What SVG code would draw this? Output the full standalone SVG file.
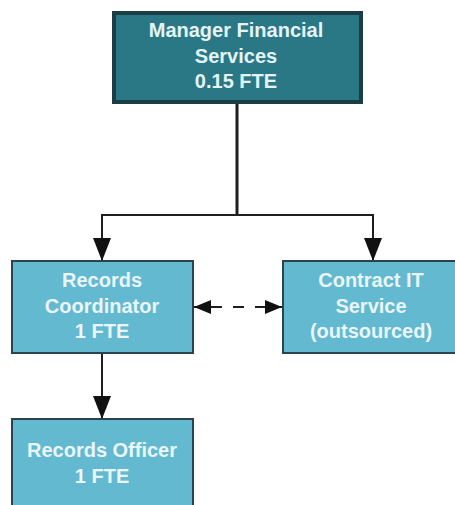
<svg xmlns="http://www.w3.org/2000/svg" width="455" height="505" viewBox="0 0 455 505">
  <style>
    .top { fill: #2a7886; stroke: #1b3d46; stroke-width: 4; }
    .box { fill: #62b9d0; stroke: #2a434c; stroke-width: 2; }
    .t { font-family: "Liberation Sans", Arial, sans-serif; font-weight: bold; font-size: 20px; text-anchor: middle; }
    .tt { fill: #e4f4f6; }
    .bt { fill: #eaf6fa; }
    .ln { fill: none; stroke: #1e1e1e; stroke-width: 2; }
    .dash { fill: none; stroke: #1e1e1e; stroke-width: 2; stroke-dasharray: 28 11 11 11 27; }
  </style>
  <defs>
    <marker id="arr" markerUnits="userSpaceOnUse" markerWidth="24" markerHeight="18" refX="23" refY="9" orient="auto">
      <path d="M0,0 L23,9 L0,18 Z" fill="#111"/>
    </marker>
    <marker id="sarr" markerUnits="userSpaceOnUse" markerWidth="18" markerHeight="14" refX="17" refY="7" orient="auto-start-reverse">
      <path d="M0,0 L17,7 L0,14 Z" fill="#111"/>
    </marker>
  </defs>
  <rect width="455" height="505" fill="#ffffff"/>

  <g id="connectors">
    <path class="ln" d="M237,102 V215" style="stroke-width:3"/>
    <path class="ln" d="M237,215 H102 V261" marker-end="url(#arr)"/>
    <path class="ln" d="M237,215 H373 V261" marker-end="url(#arr)"/>
    <path class="dash" d="M194,307 H282" marker-start="url(#sarr)" marker-end="url(#sarr)"/>
    <path class="ln" d="M102,353 V419" marker-end="url(#arr)"/>
  </g>

  <g id="manager">
    <rect class="top" x="114" y="13" width="247" height="89"/>
    <text class="t tt" x="236" y="37">Manager Financial</text>
    <text class="t tt" x="236" y="63">Services</text>
    <text class="t tt" x="236" y="88">0.15 FTE</text>
  </g>

  <g id="coordinator">
    <rect class="box" x="12" y="261" width="181" height="92"/>
    <text class="t bt" x="102" y="287">Records</text>
    <text class="t bt" x="102" y="313">Coordinator</text>
    <text class="t bt" x="102" y="338">1 FTE</text>
  </g>

  <g id="contract">
    <rect class="box" x="283" y="261" width="181" height="92"/>
    <text class="t bt" x="371" y="287">Contract IT</text>
    <text class="t bt" x="371" y="313">Service</text>
    <text class="t bt" x="371" y="338">(outsourced)</text>
  </g>

  <g id="officer">
    <rect class="box" x="12" y="419" width="181" height="100"/>
    <text class="t bt" x="102" y="457">Records Officer</text>
    <text class="t bt" x="102" y="483">1 FTE</text>
  </g>
</svg>
